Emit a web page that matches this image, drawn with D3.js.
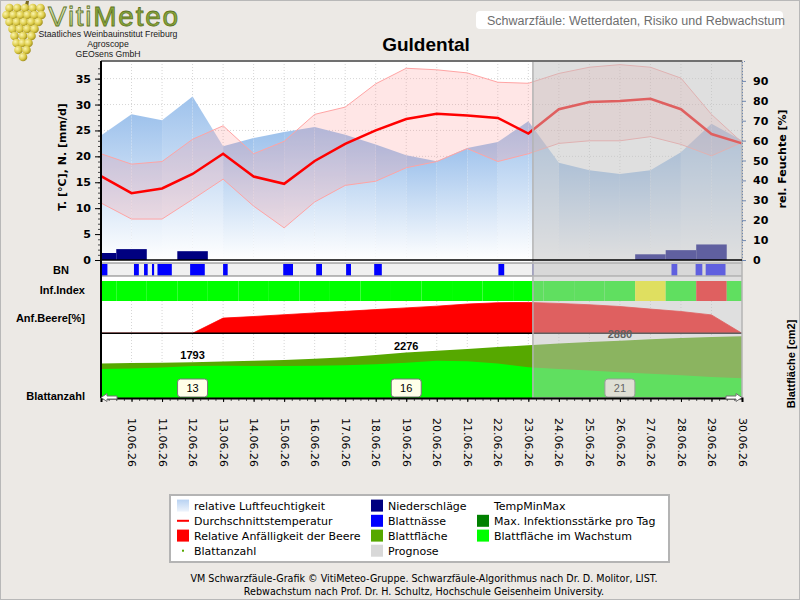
<!DOCTYPE html>
<html>
<head>
<meta charset="utf-8">
<script src="https://cdn.jsdelivr.net/npm/d3@7"></script>
<style>
  body { margin: 0; background: #ece9e5; }
  svg { display: block; font-family: "Liberation Sans", Arial, sans-serif; }
</style>
</head>
<body>
<svg id="chart" width="800" height="600"></svg>
<script>
// x axis: index 0 = 09.06.26, labels start at index 1
const dayLabels = ["10.06.26","11.06.26","12.06.26","13.06.26","14.06.26","15.06.26","16.06.26",
  "17.06.26","18.06.26","19.06.26","20.06.26","21.06.26","22.06.26","23.06.26","24.06.26",
  "25.06.26","26.06.26","27.06.26","28.06.26","29.06.26","30.06.26"];
const progStart = 14.15; // start of forecast (Prognose)

// temperature [°C]
const tempMean = [16.2,12.9,13.8,16.6,20.5,16.1,14.7,19.1,22.4,25.0,27.2,28.2,27.9,27.4,24.4,29.1,30.5,30.7,31.1,29.1,24.3,22.5];
const tempMax  = [20.5,18.5,19.0,23.3,25.9,20.5,22.9,28.1,29.5,34.0,37.0,36.7,36.1,34.3,34.1,36.0,37.2,37.7,37.2,35.1,28.1,22.7];
const tempMin  = [11.0,7.9,7.9,11.7,15.6,10.4,6.2,11.2,14.4,15.2,17.8,19.0,21.5,19.0,20.5,22.5,23.0,23.0,23.8,22.3,20.1,22.7];
// relative humidity [%]
const humidity = [62.6,73.2,70.2,82.2,57.1,61.3,64.3,66.8,63.0,58.0,52.6,49.6,56.3,59.3,69.7,48.9,45.1,43.2,45.1,54.2,68.5,60.1];
// precipitation [mm/d]
const precip = [1.35,2.1,0,1.7,0,0,0,0,0,0,0,0,0,0,0,0,0,0,1.1,1.9,3.0,0];
// leaf wetness periods (BN), in day units
const wetness = [[0.02,0.21],[1.08,1.24],[1.41,1.53],[1.67,1.74],[1.85,2.32],[2.92,3.40],[4.0,4.15],
  [5.97,6.29],[7.05,7.24],[8.03,8.19],[8.95,9.20],[13.02,13.21],[14.13,14.17],
  [18.69,18.88],[19.48,19.70],[19.81,20.46]];
// infection index per day: 0 none, 1 low, 2 high
const infIndex = [0,0,0,0,0,0,0,0,0,0,0,0,0,0,0,0,0,0,1,0,2,0];
// relative susceptibility of the berry [%]
const berrySusc = [0,0,0,0,47,52,57.5,63,68,73.4,78.7,84,90.6,94.7,95.6,92.5,88.4,83,75,67.5,57,0];
// leaf area [cm2]
const leafArea    = [1720,1750,1770,1793,1825,1860,1900,1960,2040,2150,2276,2370,2460,2555,2650,2730,2805,2880,2950,3010,3060,3100];
const leafGrowing = [1450,1470,1530,1600,1610,1605,1600,1610,1640,1690,1760,1860,1840,1720,1540,1450,1370,1290,1210,1130,1050,980];
// leaf count
const leafCountDays = [3,10,17];
const leafCounts = [13,16,21];

const svg = d3.select("#chart");
const defs = svg.append("defs");

const x = d3.scaleLinear().domain([0, 21]).range([101, 742]);
const step = x(1) - x(0);
const yT = d3.scaleLinear().domain([0, 38.4]).range([260, 61]);
const yH = d3.scaleLinear().domain([0, 100]).range([260, 61]);
const yB = d3.scaleLinear().domain([0, 100]).range([333.3, 301]);
const yL = d3.scaleLinear().domain([0, 3250]).range([397.7, 333.3]);
const idx = d3.range(humidity.length);

// gradients
const hg = defs.append("linearGradient").attr("id", "hgrad").attr("x1", 0).attr("y1", 0).attr("x2", 0).attr("y2", 1);
hg.append("stop").attr("offset", 0).attr("stop-color", "#9ec2ec");
hg.append("stop").attr("offset", 1).attr("stop-color", "#ffffff");
const lg = defs.append("linearGradient").attr("id", "lgrad").attr("x1", 0).attr("y1", 0).attr("x2", 0).attr("y2", 1);
lg.append("stop").attr("offset", 0).attr("stop-color", "#b8d2f2");
lg.append("stop").attr("offset", 1).attr("stop-color", "#eef4fc");
const vg = defs.append("linearGradient").attr("id", "vgrad").attr("x1", 0).attr("y1", 0).attr("x2", 0).attr("y2", 1);
vg.append("stop").attr("offset", 0).attr("stop-color", "#eef3dc");
vg.append("stop").attr("offset", 1).attr("stop-color", "#9cb452");
const gg = defs.append("radialGradient").attr("id", "grape").attr("cx", 0.35).attr("cy", 0.35).attr("r", 0.7);
gg.append("stop").attr("offset", 0).attr("stop-color", "#fbf5b0");
gg.append("stop").attr("offset", 0.6).attr("stop-color", "#dccb48");
gg.append("stop").attr("offset", 1).attr("stop-color", "#9c8a18");

// page background
svg.append("rect").attr("x", 0.5).attr("y", 0.5).attr("width", 799).attr("height", 599)
  .attr("fill", "#ece9e5").attr("stroke", "#b8b8b8");

// ---- header ----
const logo = svg.append("g");
const grapeRows = [[8,6,44],[15,3,45],[22,6,42],[29,9,38],[36,11,35],[43,13,32],[50,15,30],[57,19,27]];
logo.append("path").attr("d", "M24,8 L26,1 L29,1 L28,8").attr("fill", "#7a6a20");
grapeRows.forEach(([gy, a, b]) => {
  const n = Math.max(1, Math.round((b - a) / 7));
  d3.range(n).forEach(k => {
    const gx = n === 1 ? (a + b) / 2 : a + 3.5 + k * (b - a - 7) / (n - 1);
    logo.append("circle").attr("cx", gx).attr("cy", gy).attr("r", 4.3).attr("fill", "url(#grape)");
  });
});
const vm = svg.append("text").attr("x", 48).attr("y", 26).attr("font-size", 28)
  .attr("textLength", 130).attr("stroke", "#5e7424").attr("stroke-width", 0.8);
vm.append("tspan").attr("fill", "url(#vgrad)").text("Viti");
vm.append("tspan").attr("fill", "#8aa83a").text("Meteo");
[["Staatliches Weinbauinstitut Freiburg", 36.5], ["Agroscope", 46.5], ["GEOsens GmbH", 57]].forEach(([t, ty]) => {
  svg.append("text").attr("x", 108).attr("y", ty).attr("text-anchor", "middle")
    .attr("font-size", 8.7).attr("fill", "#202020").text(t);
});
svg.append("rect").attr("x", 476).attr("y", 11).attr("width", 307).attr("height", 18).attr("rx", 4).attr("fill", "#fff");
svg.append("text").attr("x", 487).attr("y", 24.5).attr("font-size", 12.5).attr("fill", "#6e6e6e")
  .text("Schwarzfäule: Wetterdaten, Risiko und Rebwachstum");
svg.append("text").attr("x", 426).attr("y", 51).attr("text-anchor", "middle")
  .attr("font-size", 19).attr("font-weight", "bold").text("Guldental");

// ---- plot backgrounds ----
svg.append("rect").attr("x", x(0)).attr("y", 61).attr("width", x(21) - x(0)).attr("height", 337).attr("fill", "#fff");

// grid
const grid = svg.append("g").attr("stroke", "#d6d6d6").attr("stroke-dasharray", "1,2");
d3.range(1, 21).forEach(i => {
  grid.append("line").attr("x1", x(i)).attr("x2", x(i)).attr("y1", 61).attr("y2", 260);
  grid.append("line").attr("x1", x(i)).attr("x2", x(i)).attr("y1", 301).attr("y2", 398);
});
d3.range(5, 40, 5).forEach(v => {
  grid.append("line").attr("x1", x(0)).attr("x2", x(21)).attr("y1", yT(v)).attr("y2", yT(v));
});

// humidity (per-segment gradient)
const hPts = idx.map(i => ({ i, v: humidity[i] }));
const hArea = d3.area().x(d => x(d.i)).y0(yH(0)).y1(d => yH(d.v));
svg.append("g").selectAll("path").data(d3.pairs(hPts)).join("path")
  .attr("d", p => hArea(p)).attr("fill", "url(#hgrad)");

// temperature band + lines
const band = d3.area().x(i => x(i)).y0(i => yT(tempMin[i])).y1(i => yT(tempMax[i]));
svg.append("path").attr("d", band(idx)).attr("fill", "#ff8c8c").attr("fill-opacity", 0.22);
[tempMax, tempMin].forEach(arr => {
  svg.append("path").attr("d", d3.line().x(i => x(i)).y(i => yT(arr[i]))(idx))
    .attr("fill", "none").attr("stroke", "#ffa4a4").attr("stroke-width", 1);
});
svg.append("path").attr("d", d3.line().x(i => x(i)).y(i => yT(tempMean[i]))(idx))
  .attr("fill", "none").attr("stroke", "#ff0000").attr("stroke-width", 2.5);

// precipitation
svg.append("g").selectAll("rect").data(idx.filter(i => precip[i] > 0)).join("rect")
  .attr("x", i => Math.max(x(0), x(i) - step / 2))
  .attr("width", i => Math.min(x(21), x(i) + step / 2) - Math.max(x(0), x(i) - step / 2))
  .attr("y", i => yT(precip[i])).attr("height", i => yT(0) - yT(precip[i]))
  .attr("fill", "#000080");

// ---- BN strip ----
svg.append("rect").attr("x", x(0)).attr("y", 263).attr("width", x(21) - x(0)).attr("height", 13)
  .attr("fill", "#f0f0f0");
svg.append("g").selectAll("rect").data(wetness).join("rect")
  .attr("x", d => x(d[0])).attr("width", d => Math.max(1, x(d[1]) - x(d[0])))
  .attr("y", 264).attr("height", 11.5).attr("fill", "#0000ff");
[263, 276].forEach(ly => svg.append("line").attr("x1", x(0)).attr("x2", x(21)).attr("y1", ly).attr("y2", ly)
  .attr("stroke", "#7a7a7a"));

// ---- infection index ----
const infColors = ["#00ff00", "#ffff00", "#ff0000"];
svg.append("g").selectAll("rect").data(idx).join("rect")
  .attr("x", i => Math.max(x(0), x(i) - step / 2))
  .attr("width", i => Math.min(x(21), x(i) + step / 2) - Math.max(x(0), x(i) - step / 2))
  .attr("y", 281).attr("height", 20).attr("fill", i => infColors[infIndex[i]]);

// ---- berry susceptibility ----
svg.append("path").attr("d", d3.area().x(i => x(i)).y0(yB(0)).y1(i => yB(berrySusc[i]))(idx))
  .attr("fill", "#ff0000").attr("stroke", "#ff0000").attr("stroke-width", 0.8);
svg.append("line").attr("x1", x(0)).attr("x2", x(21)).attr("y1", yB(0)).attr("y2", yB(0))
  .attr("stroke", "#000").attr("stroke-width", 1.5);

// ---- leaf area ----
svg.append("path").attr("d", d3.area().x(i => x(i)).y0(yL(0)).y1(i => yL(leafArea[i]))(idx)).attr("fill", "#56a800");
svg.append("path").attr("d", d3.area().x(i => x(i)).y0(yL(0)).y1(i => yL(leafGrowing[i]))(idx)).attr("fill", "#00ff00");
svg.append("g").selectAll("text").data(leafCountDays).join("text")
  .attr("x", d => x(d)).attr("y", d => yL(leafArea[d]) - 3).attr("text-anchor", "middle")
  .attr("font-size", 11).attr("font-weight", "bold").text(d => leafArea[d]);
const boxes = svg.append("g").selectAll("g").data(leafCountDays).join("g")
  .attr("transform", d => `translate(${x(d)},0)`);
boxes.append("rect").attr("x", -15).attr("y", 379).attr("width", 30).attr("height", 18).attr("rx", 3)
  .attr("fill", "#ffffe8").attr("stroke", "#777");
boxes.append("text").attr("y", 392).attr("text-anchor", "middle").attr("font-size", 11)
  .text((d, k) => leafCounts[k]);

// ---- forecast overlay ----
svg.append("rect").attr("x", x(progStart)).attr("y", 61).attr("width", x(21) - x(progStart)).attr("height", 337)
  .attr("fill", "#c0c0c0").attr("fill-opacity", 0.5).attr("stroke", "#b4b4b4").attr("stroke-width", 1.5);

// ---- frame & axes ----
svg.append("line").attr("x1", x(0)).attr("x2", x(21)).attr("y1", 61).attr("y2", 61)
  .attr("stroke", "#707070").attr("stroke-width", 2);
svg.append("line").attr("x1", x(0)).attr("x2", x(21)).attr("y1", 260).attr("y2", 260)
  .attr("stroke", "#000").attr("stroke-width", 1.5);

const axFont = "DejaVu Sans, Verdana, sans-serif";
const leftMinor = svg.append("g").attr("transform", `translate(${x(0)},0)`)
  .call(d3.axisLeft(yT).tickValues(d3.range(0, 38, 1)).tickSize(3).tickFormat(""));
leftMinor.select(".domain").remove();
leftMinor.selectAll("line").attr("stroke", "#444");
const leftAx = svg.append("g").attr("transform", `translate(${x(0)},0)`)
  .call(d3.axisLeft(yT).tickValues(d3.range(0, 40, 5)).tickSize(6).tickPadding(4));
leftAx.select(".domain").remove();
leftAx.selectAll("text").attr("font-family", axFont).attr("font-weight", "bold").attr("font-size", 11).attr("fill", "#000");

const rightAx = svg.append("g").attr("transform", `translate(${x(21)},0)`)
  .call(d3.axisRight(yH).tickValues(d3.range(0, 100, 10)).tickSize(4).tickPadding(7));
rightAx.select(".domain").attr("stroke", "#7088b0").attr("stroke-dasharray", "1,2");
rightAx.selectAll("line").attr("stroke", "#7088b0");
rightAx.selectAll("text").attr("font-family", axFont).attr("font-weight", "bold").attr("font-size", 11).attr("fill", "#000");

svg.append("line").attr("x1", x(0)).attr("x2", x(0)).attr("y1", 61).attr("y2", 398)
  .attr("stroke", "#000").attr("stroke-width", 2);

// bottom time axis
const botMinor = svg.append("g").attr("transform", "translate(0,398)")
  .call(d3.axisBottom(x).tickValues(d3.range(0, 21.01, 0.25)).tickSize(3).tickFormat(""));
botMinor.select(".domain").remove();
botMinor.selectAll("line").attr("stroke", "#555");
const botAx = svg.append("g").attr("transform", "translate(0,398)")
  .call(d3.axisBottom(x).tickValues(d3.range(1, 22)).tickSize(4).tickFormat(i => dayLabels[i - 1]));
botAx.select(".domain").attr("stroke", "#000").attr("stroke-width", 2);
botAx.selectAll("text").attr("transform", "rotate(90)").attr("x", 20).attr("y", 0).attr("dy", "0.35em")
  .attr("text-anchor", "start").attr("font-family", axFont).attr("font-size", 11).attr("fill", "#000");

// axis end arrows
svg.append("path").attr("d", `M${x(0)},397.5 l6,-4 v2.5 h10 v3 h-10 v2.5 z`)
  .attr("fill", "#fff").attr("stroke", "#707070");
svg.append("path").attr("d", `M${x(21)},397.5 l-6,-4 v2.5 h-10 v3 h10 v2.5 z`)
  .attr("fill", "#fff").attr("stroke", "#707070");

// axis titles and row labels
svg.append("text").attr("transform", "translate(66,157) rotate(-90)").attr("text-anchor", "middle")
  .attr("font-family", axFont).attr("font-weight", "bold").attr("font-size", 11).text("T. [°C], N. [mm/d]");
svg.append("text").attr("transform", "translate(786,159) rotate(-90)").attr("text-anchor", "middle")
  .attr("font-family", axFont).attr("font-weight", "bold").attr("font-size", 11).text("rel. Feuchte [%]");
svg.append("text").attr("transform", "translate(795,364) rotate(-90)").attr("text-anchor", "middle")
  .attr("font-weight", "bold").attr("font-size", 11).text("Blattfläche [cm2]");
[["BN", 69, 274], ["Inf.Index", 85, 294], ["Anf.Beere[%]", 85, 322], ["Blattanzahl", 85, 400]].forEach(([t, tx, ty]) => {
  svg.append("text").attr("x", tx).attr("y", ty).attr("text-anchor", "end")
    .attr("font-weight", "bold").attr("font-size", 11).text(t);
});

// ---- legend ----
svg.append("rect").attr("x", 170).attr("y", 495).attr("width", 499).attr("height", 67)
  .attr("fill", "#fff").attr("stroke", "#b4b4b4").attr("stroke-width", 2);
const legendItems = [
  { col: 0, row: 0, type: "box", fill: "url(#lgrad)", label: "relative Luftfeuchtigkeit" },
  { col: 0, row: 1, type: "line", fill: "#ff0000", label: "Durchschnittstemperatur" },
  { col: 0, row: 2, type: "box", fill: "#ff0000", label: "Relative Anfälligkeit der Beere" },
  { col: 0, row: 3, type: "dot", fill: "#56a800", label: "Blattanzahl" },
  { col: 1, row: 0, type: "box", fill: "#000080", label: "Niederschläge" },
  { col: 1, row: 1, type: "box", fill: "#0000ff", label: "Blattnässe" },
  { col: 1, row: 2, type: "box", fill: "#56a800", label: "Blattfläche" },
  { col: 1, row: 3, type: "box", fill: "#d8d8d8", label: "Prognose" },
  { col: 2, row: 0, type: "none", fill: "none", label: "TempMinMax" },
  { col: 2, row: 1, type: "box", fill: "#008000", label: "Max. Infektionsstärke pro Tag" },
  { col: 2, row: 2, type: "box", fill: "#00ff00", label: "Blattfläche im Wachstum" }
];
const colX = [177, 371, 477];
const rowY = [505.6, 520.8, 535.6, 550.7];
const li = svg.append("g").selectAll("g").data(legendItems).join("g")
  .attr("transform", d => `translate(${colX[d.col]},${rowY[d.row]})`);
li.filter(d => d.type === "box").append("rect").attr("x", 0).attr("y", -6).attr("width", 12).attr("height", 12)
  .attr("fill", d => d.fill);
li.filter(d => d.type === "line").append("line").attr("x1", 0).attr("x2", 12).attr("y1", 0).attr("y2", 0)
  .attr("stroke", d => d.fill).attr("stroke-width", 2);
li.filter(d => d.type === "dot").append("rect").attr("x", 5).attr("y", -1).attr("width", 2).attr("height", 2)
  .attr("fill", d => d.fill);
li.append("text").attr("x", 17).attr("y", 4).attr("font-family", axFont).attr("font-size", 11)
  .attr("fill", "#000").text(d => d.label);

// ---- footer ----
[["VM Schwarzfäule-Grafik © VitiMeteo-Gruppe. Schwarzfäule-Algorithmus nach Dr. D. Molitor, LIST.", 582],
 ["Rebwachstum nach Prof. Dr. H. Schultz, Hochschule Geisenheim University.", 595]].forEach(([t, ty]) => {
  svg.append("text").attr("x", 424).attr("y", ty).attr("text-anchor", "middle")
    .attr("font-family", axFont).attr("font-size", 9.6).attr("fill", "#000").text(t);
});
</script>
</body>
</html>
